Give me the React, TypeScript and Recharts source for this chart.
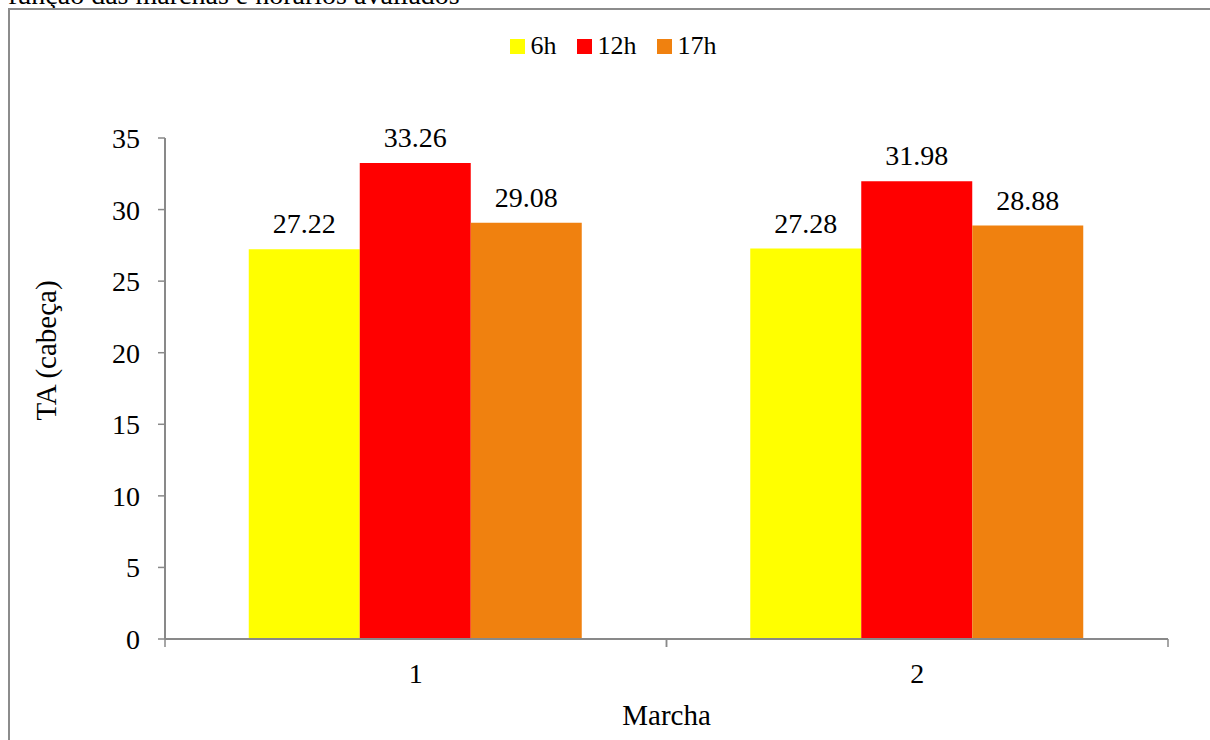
import { BarChart, Bar, XAxis, YAxis, LabelList, Label } from 'recharts'

const MARCHAS = ['1', '2']
const H6 = [27.22, 27.28]
const H12 = [33.26, 31.98]
const H17 = [29.08, 28.88]
const Y_TICKS = [0, 5, 10, 15, 20, 25, 30, 35]

const SERIES = [
  { key: 'h6', name: '6h', color: '#FFFF00' },
  { key: 'h12', name: '12h', color: '#FF0000' },
  { key: 'h17', name: '17h', color: '#F0810F' },
]

const data = MARCHAS.map((m, i) => ({ marcha: m, h6: H6[i], h12: H12[i], h17: H17[i] }))

const FONT = '"Liberation Serif", "Times New Roman", serif'
const AXIS_COLOR = '#898989'

// x axis: label at the centre, tick marks on the category borders (like Excel)
function MarchaTick({ x, y, payload }: any) {
  const half = payload?.offset ?? 250
  const axisY = y - 29
  return (
    <g>
      <line x1={x - half} x2={x - half} y1={axisY} y2={axisY + 8} stroke={AXIS_COLOR} strokeWidth={1.5} />
      <line x1={x + half} x2={x + half} y1={axisY} y2={axisY + 8} stroke={AXIS_COLOR} strokeWidth={1.5} />
      <text x={x} y={y + 15} textAnchor="middle" fontSize={28} fontFamily={FONT} fill="#000">
        {payload.value}
      </text>
    </g>
  )
}

// rotated y title, sits a bit above the middle of the plot like the original
function TituloY({ viewBox }: any) {
  const cx = viewBox.x + 51
  const cy = viewBox.y + viewBox.height / 2 - 38
  return (
    <text x={cx} y={cy} transform={`rotate(-90, ${cx}, ${cy})`} textAnchor="middle" fontSize={29} fontFamily={FONT} fill="#000">
      TA (cabeça)
    </text>
  )
}

function Legenda() {
  return (
    <div style={{ position: 'absolute', top: 31, left: 0, width: 1226, display: 'flex', justifyContent: 'center', fontFamily: FONT, fontSize: 26, color: '#000' }}>
      {SERIES.map(s => (
        <div key={s.key} style={{ display: 'flex', alignItems: 'center', margin: '0 10px' }}>
          <span style={{ width: 15, height: 15, background: s.color, display: 'inline-block', marginRight: 6 }} />
          <span>{s.name}</span>
        </div>
      ))}
    </div>
  )
}

export default function App() {
  return (
    <div style={{ position: 'absolute', left: 0, top: 0, width: 1210, height: 740, overflow: 'hidden', background: '#fff' }}>
      <div style={{ position: 'absolute', left: 8, top: -21, fontFamily: FONT, fontSize: 28, whiteSpace: 'nowrap', color: '#000' }}>
        função das marchas e horários avaliados
      </div>
      <div style={{ position: 'absolute', left: 8, top: 8, width: 1210, height: 740, borderLeft: '2px solid #8c8c8c', borderTop: '2px solid #8c8c8c' }} />
      <Legenda />
      <div style={{ position: 'absolute', left: 0, top: 0 }}>
        <BarChart
          width={1210}
          height={740}
          data={data}
          margin={{ top: 138, right: 42, left: 5, bottom: 11 }}
          barCategoryGap="16.7%"
          barGap={0}
        >
          <XAxis
            dataKey="marcha"
            height={90}
            axisLine={{ stroke: AXIS_COLOR, strokeWidth: 2 }}
            tickLine={false}
            tickSize={7}
            tickMargin={22}
            tick={<MarchaTick />}
            label={{ value: 'Marcha', position: 'insideBottom', offset: 4, fontSize: 29, fontFamily: FONT, fill: '#000' }}
          />
          <YAxis
            width={160}
            domain={[0, 35]}
            ticks={Y_TICKS}
            interval={0}
            axisLine={{ stroke: AXIS_COLOR, strokeWidth: 2 }}
            tickLine={{ stroke: AXIS_COLOR, strokeWidth: 1.5 }}
            tickSize={7}
            tickMargin={18}
            tick={{ fontSize: 28, fontFamily: FONT, fill: '#000' }}
          >
            <Label content={<TituloY />} />
          </YAxis>
          {SERIES.map(s => (
            <Bar key={s.key} dataKey={s.key} name={s.name} fill={s.color} isAnimationActive={false}>
              <LabelList
                dataKey={s.key}
                position="top"
                offset={16}
                formatter={(v: any) => Number(v).toFixed(2)}
                style={{ fontSize: 28, fontFamily: FONT, fill: '#000' }}
              />
            </Bar>
          ))}
        </BarChart>
      </div>
    </div>
  )
}
